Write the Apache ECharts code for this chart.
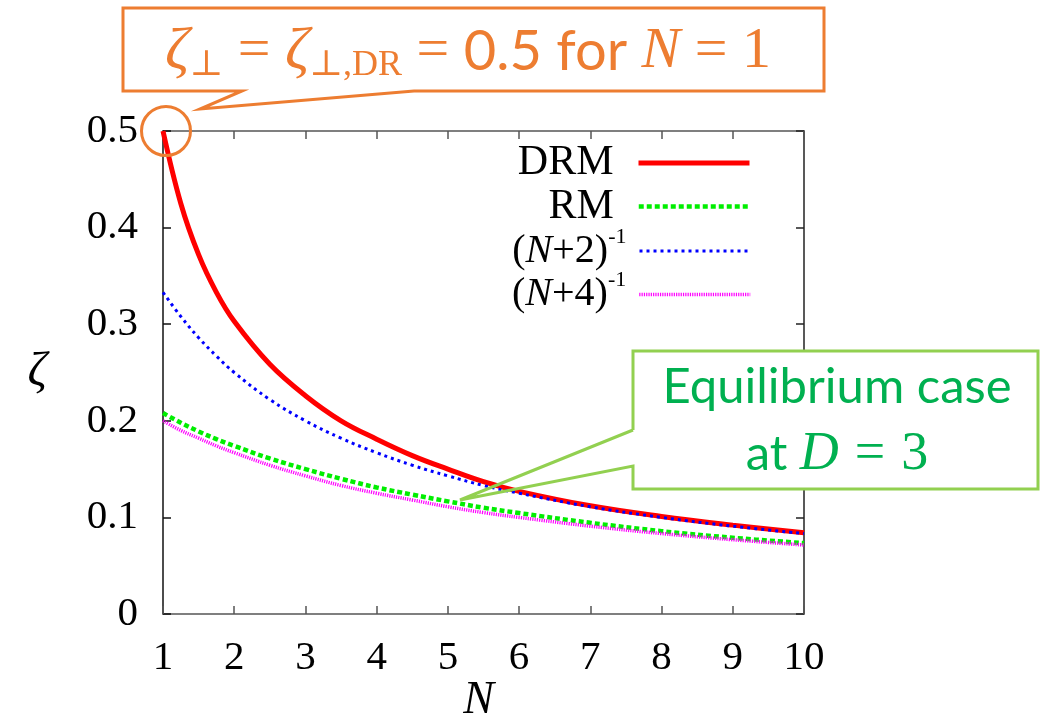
<!DOCTYPE html>
<html>
<head>
<meta charset="utf-8">
<style>
  html, body { margin: 0; padding: 0; background: #fff; }
  #chart { width: 1051px; height: 725px; }
</style>
<script src="https://cdn.jsdelivr.net/npm/echarts@6.0.0/dist/echarts.min.js"></script>
</head>
<body>
<div id="chart"></div>
<script>
// Sample positions along N
const nValues = [1, 1.25, 1.5, 1.75, 2, 2.5, 3, 3.5, 4, 4.5, 5, 5.5, 6, 7, 8, 9, 10];
// zeta curves
const drm  = [0.500, 0.425, 0.372, 0.333, 0.303, 0.2585, 0.226, 0.200, 0.181, 0.164, 0.150, 0.137, 0.127, 0.112, 0.101, 0.092, 0.084];
const rm   = [0.208, 0.198, 0.189, 0.181, 0.174, 0.161, 0.150, 0.140, 0.131, 0.1236, 0.1166, 0.110, 0.1045, 0.0944, 0.0858, 0.0789, 0.0734];
const invN2 = [0.333, 0.308, 0.286, 0.267, 0.250, 0.222, 0.200, 0.182, 0.167, 0.154, 0.143, 0.133, 0.125, 0.111, 0.100, 0.0909, 0.0833];
const invN4 = [0.200, 0.190, 0.182, 0.174, 0.167, 0.154, 0.143, 0.133, 0.125, 0.118, 0.111, 0.105, 0.100, 0.0909, 0.0833, 0.0769, 0.0714];
const seriesNames = ['DRM', 'RM', '(N+2)^-1', '(N+4)^-1'];
const xTicks = [1, 10, 1];      // min, max, step
const yTicks = [0, 0.5, 0.1];   // min, max, step

const SERIF = '"Liberation Serif", "DejaVu Serif", serif';
const SANS = 'Lato, "Open Sans", sans-serif';
const ORANGE = '#ED7D31';
const GREEN_LINE = '#92D050';
const GREEN_TEXT = '#00B050';

// line look of each curve: colour, width, dash pattern
const looks = [
  { color: '#ff0000', width: 5, type: 'solid' },
  { color: '#00ee00', width: 4.5, type: [5, 3] },
  { color: '#0000ff', width: 3, type: [3, 4] },
  { color: '#ff00ff', width: 3.5, type: [1.2, 1.1] }
];

const pairs = ys => nValues.map((n, i) => [n, ys[i]]);

const chart = echarts.init(document.getElementById('chart'), null, { renderer: 'canvas' });

const frameAxis = color => ({
  axisLine: { show: true, onZero: false, lineStyle: { color: color, width: 1.5 } },
  axisTick: { show: true, inside: true, length: 8, lineStyle: { color: color, width: 1.5 } },
  splitLine: { show: false }
});

const legendRich = {
  a: { fontFamily: SERIF, fontSize: 42, lineHeight: 30, color: '#000' },
  b: { fontFamily: SERIF, fontSize: 40, lineHeight: 30, color: '#000' },
  i: { fontFamily: SERIF, fontSize: 40, fontStyle: 'italic', lineHeight: 30, color: '#000' },
  s: { fontFamily: SERIF, fontSize: 22, height: 2, lineHeight: 2, verticalAlign: 'top', color: '#000' },
  g: { width: 20, lineHeight: 30 },
  h: { width: 8, lineHeight: 30 }
};

const legendLabel = name => {
  if (name === 'DRM' || name === 'RM') return '{a|' + name + '}{g| }';
  const k = name.charAt(3);
  return '{b|(}{i|N}{b|+' + k + ')}{s|-1}{h| }';
};

// one legend row per curve, stacked at a fixed pitch
const legendTop = 142, legendPitch = 43.5;
const legends = seriesNames.map((name, k) => ({
  orient: 'vertical', right: 299, top: legendTop + k * legendPitch - (k >= 2 ? 3 : 0), padding: 0,
  align: 'right', itemWidth: 111, itemHeight: 2,
  selectedMode: false,
  itemStyle: { opacity: 0 },
  data: [{
    name: name,
    itemStyle: { opacity: 0 },
    lineStyle: { color: looks[k].color, width: looks[k].width, type: looks[k].type }
  }],
  formatter: legendLabel,
  textStyle: { fontFamily: SERIF, fontSize: 42, lineHeight: 30, color: '#000', rich: legendRich }
}));

const option = {
  animation: false,
  backgroundColor: '#fff',
  grid: { left: 163, right: 247, top: 131, bottom: 111, containLabel: false, outerBoundsMode: 'none' },
  xAxis: [
    Object.assign({
      type: 'value', position: 'bottom', min: xTicks[0], max: xTicks[1], interval: xTicks[2],
      name: 'N', nameLocation: 'middle', nameGap: 64, nameMoveOverlap: false,
      nameTextStyle: { fontFamily: SERIF, fontStyle: 'italic', fontSize: 46, color: '#000', padding: [0, 10, 0, 0] },
      axisLabel: { margin: 24, fontFamily: SERIF, fontSize: 41, color: '#000' }
    }, frameAxis('#555')),
    Object.assign({
      type: 'value', position: 'top', min: xTicks[0], max: xTicks[1], interval: xTicks[2],
      axisLabel: { show: false }
    }, frameAxis('#555'))
  ],
  yAxis: [
    Object.assign({
      type: 'value', position: 'left', min: yTicks[0], max: yTicks[1], interval: yTicks[2],
      name: 'ζ', nameLocation: 'middle', nameGap: 116, nameRotate: 0, nameMoveOverlap: false,
      nameTextStyle: { fontFamily: SERIF, fontStyle: 'italic', fontSize: 48, color: '#000', padding: [28, 0, 0, 0] },
      axisLabel: { margin: 25, fontFamily: SERIF, fontSize: 41, color: '#000' }
    }, frameAxis('#111')),
    Object.assign({
      type: 'value', position: 'right', min: yTicks[0], max: yTicks[1], interval: yTicks[2],
      axisLabel: { show: false }
    }, frameAxis('#222'))
  ],
  legend: legends,
  series: seriesNames.map((name, k) => ({
    name: name, type: 'line', symbol: 'none', smooth: 0.4,
    data: pairs([drm, rm, invN2, invN4][k]),
    lineStyle: { color: looks[k].color, width: looks[k].width, type: looks[k].type },
    itemStyle: { color: looks[k].color }
  }))
};
chart.setOption(option);

// Callouts placed relative to the data coordinates
const corner = chart.convertToPixel({ gridIndex: 0 }, [1, 0.5]);
const tip = chart.convertToPixel({ gridIndex: 0 }, [5.17, 0.118]);

chart.setOption({
  graphic: [
    // orange callout: box with pointer toward (1, 0.5)
    { type: 'polygon', z: 100,
      shape: { points: [[123, 8], [824, 8], [824, 91], [414, 91], [corner[0] + 37, corner[1] - 22], [242, 91], [123, 91]] },
      style: { fill: '#fff', stroke: ORANGE, lineWidth: 3, lineJoin: 'miter' } },
    { type: 'circle', z: 100,
      shape: { cx: corner[0] + 3, cy: corner[1], r: 24.5 },
      style: { fill: 'none', stroke: ORANGE, lineWidth: 3 } },
    { type: 'text', z: 101,
      style: {
        x: 468, y: 52, align: 'center', verticalAlign: 'middle',
        text: '{z|ζ}{s|⊥}{e| = }{z|ζ}{s|⊥,DR}{e| = }{t|0.5 for }{n|N}{e| = 1}',
        rich: {
          z: { fontFamily: SERIF, fontStyle: 'italic', fontSize: 60, fill: ORANGE, lineHeight: 64 },
          s: { fontFamily: SERIF, fontSize: 36, fill: ORANGE, lineHeight: 30, verticalAlign: 'bottom' },
          e: { fontFamily: SERIF, fontSize: 58, fill: ORANGE, lineHeight: 64 },
          t: { fontFamily: SANS, fontSize: 56, fill: ORANGE, lineHeight: 64 },
          n: { fontFamily: SERIF, fontStyle: 'italic', fontSize: 58, fill: ORANGE, lineHeight: 64 }
        }
      } },
    // green callout: white box, open pointer toward the RM curve
    { type: 'rect', z: 100,
      shape: { x: 633, y: 351, width: 405, height: 138 },
      style: { fill: '#fff', stroke: null } },
    { type: 'polyline', z: 101,
      shape: { points: [[633, 430], [633, 351], [1038, 351], [1038, 489], [633, 489], [633, 466], [tip[0], tip[1]], [633, 430]] },
      style: { fill: null, stroke: GREEN_LINE, lineWidth: 3, lineJoin: 'miter' } },
    { type: 'text', z: 102,
      style: {
        x: 837, y: 421, align: 'center', verticalAlign: 'middle',
        text: '{t|Equilibrium case}\n{t|at }{d|D}{sp| }{e|=}{sp| }{e|3}',
        rich: {
          t: { fontFamily: SANS, fontSize: 49, fill: GREEN_TEXT, lineHeight: 67 },
          d: { fontFamily: SERIF, fontStyle: 'italic', fontSize: 54, fill: GREEN_TEXT, lineHeight: 67 },
          e: { fontFamily: SERIF, fontSize: 54, fill: GREEN_TEXT, lineHeight: 67 },
          sp: { width: 16, lineHeight: 67 }
        }
      } }
  ]
});
</script>
</body>
</html>
